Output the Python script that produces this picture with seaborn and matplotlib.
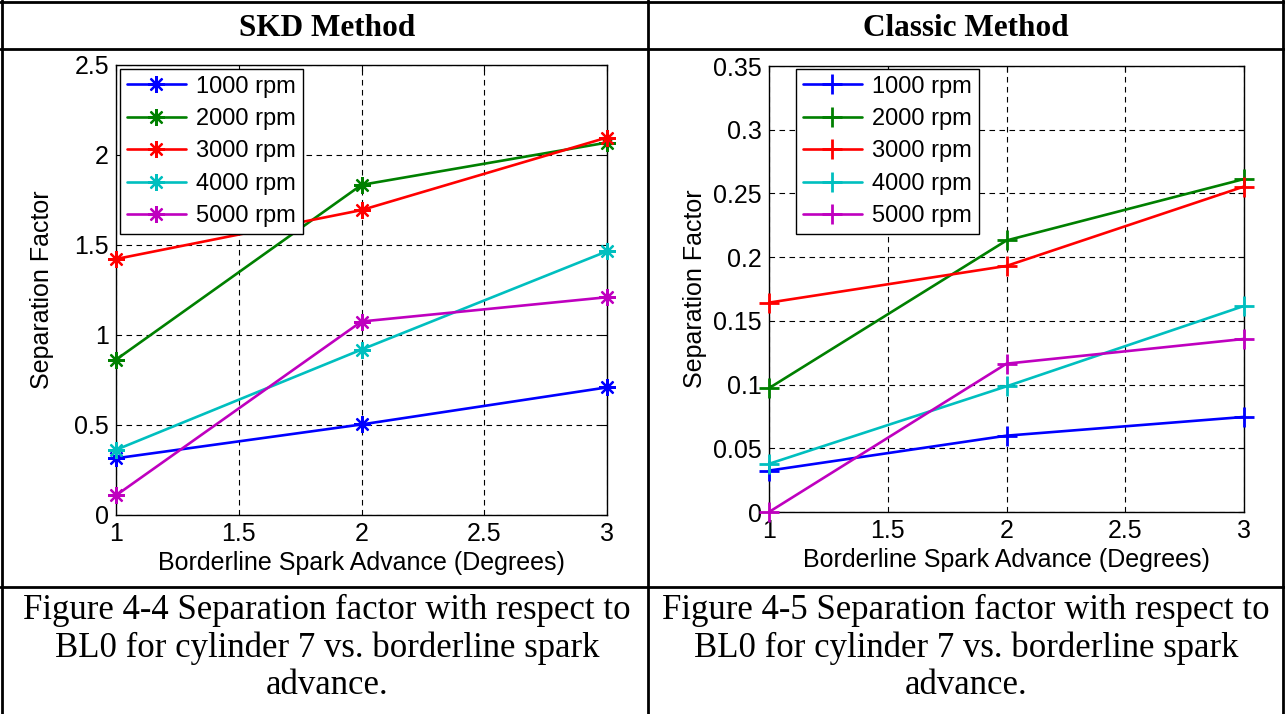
import matplotlib
matplotlib.use("Agg")
import matplotlib.pyplot as plt
import seaborn as sns
import pandas as pd
import numpy as np
from matplotlib.lines import Line2D
from matplotlib.ticker import FuncFormatter

sns.set_theme(style="white")
plt.rcParams['font.family'] = ['Liberation Sans', 'DejaVu Sans']
plt.rcParams['text.color'] = 'black'

# ---------------- data ----------------
spark_advance = [1, 2, 3]
series_labels = ["1000 rpm", "2000 rpm", "3000 rpm", "4000 rpm", "5000 rpm"]

skd_1000 = [0.315, 0.503, 0.709]
skd_2000 = [0.863, 1.834, 2.069]
skd_3000 = [1.422, 1.694, 2.097]
skd_4000 = [0.362, 0.919, 1.465]
skd_5000 = [0.109, 1.075, 1.210]

classic_1000 = [0.0325, 0.0599, 0.0746]
classic_2000 = [0.0972, 0.2131, 0.2613]
classic_3000 = [0.1643, 0.1931, 0.2554]
classic_4000 = [0.0378, 0.0986, 0.1617]
classic_5000 = [0.0000, 0.1164, 0.1358]

x_ticks = [1, 1.5, 2, 2.5, 3]
skd_y_ticks = [0, 0.5, 1, 1.5, 2, 2.5]
classic_y_ticks = [0, 0.05, 0.1, 0.15, 0.2, 0.25, 0.3, 0.35]

header_left = "SKD Method"
header_right = "Classic Method"
caption_left = "Figure 4-4 Separation factor with respect to\nBL0 for cylinder 7 vs. borderline spark\nadvance."
caption_right = "Figure 4-5 Separation factor with respect to\nBL0 for cylinder 7 vs. borderline spark\nadvance."
x_label = "Borderline Spark Advance (Degrees)"
y_label = "Separation Factor"

colors = [(0, 0, 1), (0, 0.5, 0), (1, 0, 0), (0, 0.75, 0.75), (0.75, 0, 0.75)]

W, H = 1285, 714
fig = plt.figure(figsize=(W / 100, H / 100), dpi=100)


def px_axes(x0, y0, x1, y1):
    return fig.add_axes([x0 / W, 1 - y1 / H, (x1 - x0) / W, (y1 - y0) / H])


ax1 = px_axes(116, 65, 607, 515)
ax2 = px_axes(769, 66, 1244, 512)

TICK_FS = 18
LEG_FS = 17


def draw(ax, data, marker, yticks, ylim, ms, mew, leg_anchor):
    for vals, lab, col in zip(data, series_labels, colors):
        df = pd.DataFrame({"x": spark_advance, "y": vals})
        sns.lineplot(data=df, x="x", y="y", ax=ax, color=col, marker=marker,
                     markersize=ms, markeredgewidth=mew, markeredgecolor=col,
                     linewidth=1.9, label=lab, zorder=3, clip_on=False)
    ax.set_xlim(1, 3)
    ax.set_ylim(*ylim)
    ax.set_xticks(x_ticks)
    ax.set_yticks(yticks)
    fmt = FuncFormatter(lambda v, p: ("%g" % v))
    ax.xaxis.set_major_formatter(fmt)
    ax.yaxis.set_major_formatter(fmt)
    ax.grid(True, color="black", linestyle=(0, (5, 4)), linewidth=0.8)
    ax.set_axisbelow(True)
    for s in ax.spines.values():
        s.set_color("black")
        s.set_linewidth(1.0)
        s.set_visible(True)
    ax.tick_params(axis="both", direction="in", length=4, width=0.8, colors="black",
                   labelsize=TICK_FS, top=True, right=True, pad=5)
    bb = ax.get_position()
    wpx, hpx = bb.width * W, bb.height * H
    ax.set_xlabel(x_label, fontsize=TICK_FS, color="black", va="center")
    ax.xaxis.set_label_coords(0.5, -48 / hpx)
    ax.set_ylabel(y_label, fontsize=TICK_FS, color="black", va="center")
    ax.yaxis.set_label_coords(-74 / wpx, 0.5)
    ax_x0 = leg_anchor[0] / wpx
    ax_y0 = 1 - leg_anchor[1] / hpx
    leg = ax.legend(loc="upper left", bbox_to_anchor=(ax_x0, ax_y0), fontsize=LEG_FS,
                    frameon=True, fancybox=False, edgecolor="black", framealpha=1,
                    borderaxespad=0.0, handlelength=2.5, labelspacing=0.44,
                    borderpad=0.28, handletextpad=0.45)
    leg.get_frame().set_linewidth(1.0)


draw(ax1, [skd_1000, skd_2000, skd_3000, skd_4000, skd_5000], (8, 2, 0),
     skd_y_ticks, (0, 2.5), 12, 1.6, (4, 4))
draw(ax2, [classic_1000, classic_2000, classic_3000, classic_4000, classic_5000], "+",
     classic_y_ticks, (0, 0.35), 14, 2.0, (27, 3))

# ---------------- table frame ----------------
def hline(y, x0, x1, lw=2.0):
    fig.add_artist(Line2D([x0 / W, x1 / W], [1 - y / H, 1 - y / H], color="black", linewidth=lw))


def vline(x, y0, y1, lw=2.0):
    fig.add_artist(Line2D([x / W, x / W], [1 - y0 / H, 1 - y1 / H], color="black", linewidth=lw))

hline(2, 0, W)
hline(49, 0, W)
hline(587, 0, W)
vline(2, 0, H)
vline(648, 0, H)
vline(1283, 0, H)

serif = ['Liberation Serif', 'DejaVu Serif']
fig.text(327 / W, 1 - 28 / H, header_left, ha="center", va="center", fontsize=22.5,
         fontweight="bold", family=serif, color="black")
fig.text(966 / W, 1 - 28 / H, header_right, ha="center", va="center", fontsize=22.5,
         fontweight="bold", family=serif, color="black")
fig.text(327 / W, 1 - 648 / H, caption_left, ha="center", va="center", fontsize=25,
         family=serif, linespacing=1.18, color="black")
fig.text(966 / W, 1 - 648 / H, caption_right, ha="center", va="center", fontsize=25,
         family=serif, linespacing=1.18, color="black")

fig.savefig("out.png", dpi=100, facecolor="white")
